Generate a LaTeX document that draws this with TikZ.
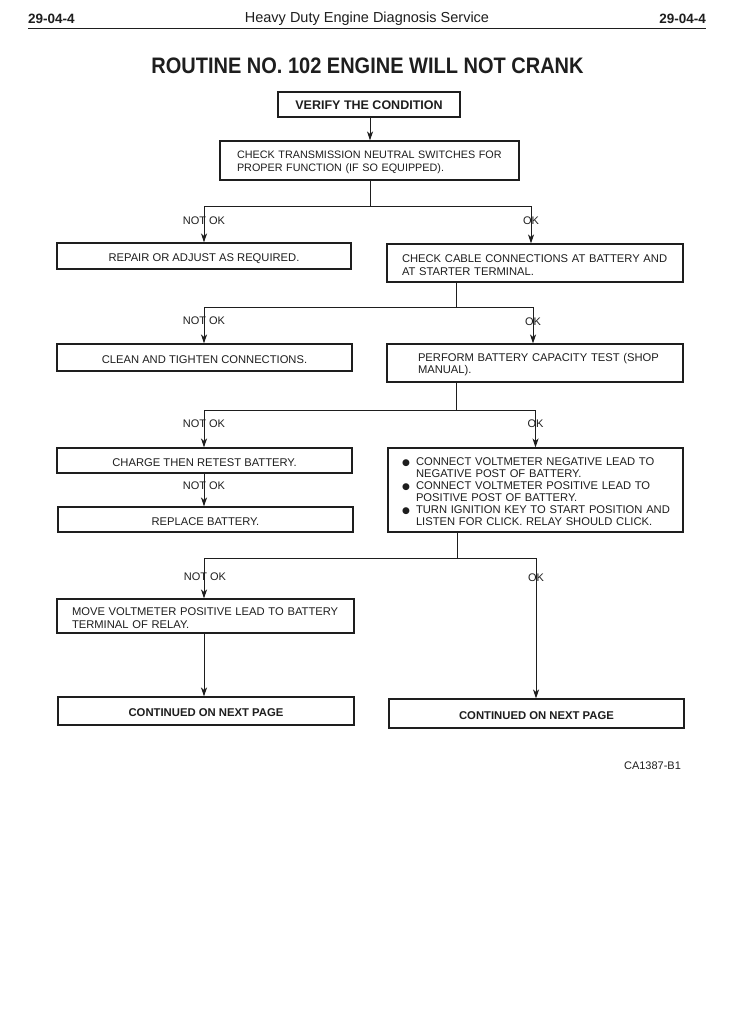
\documentclass[tikz,border=0pt]{standalone}
\usepackage{fontspec}
\setmainfont{Liberation Sans}
\newfontfamily\symfont{DejaVu Sans}
\usetikzlibrary{arrows.meta}
\definecolor{ink}{HTML}{1E1E1E}
\newcommand{\fs}[2]{\fontsize{#1}{#2}\selectfont}
\newcommand{\bul}{\makebox[14pt][l]{\raisebox{0.3pt}{\symfont\fs{9}{9}●}}}
\newcommand{\ind}{\hspace*{14pt}}
\newcommand{\tp}{\rule{0pt}{11.5pt}}
\begin{document}
\begin{tikzpicture}[x=1pt,y=-1pt,
  box/.style={draw=ink, line width=1.1pt, inner sep=0pt, text=ink, font=\fs{11.2}{12.8}},
  cbox/.style={box, text height=11pt, text depth=0pt},
  lbox/.style={box, align=left},
  arr/.style={draw=ink, line width=0.9pt, -{Stealth[length=9pt,width=6pt,inset=2.5pt]}},
  conn/.style={draw=ink, line width=0.9pt},
  lbl/.style={text=ink, font=\fs{11}{12}, inner sep=0pt},
  plain/.style={text=ink, inner sep=0pt}
]
\fill[white] (0,0) rectangle (751,1024);
\useasboundingbox (0,0) rectangle (751,1024);

% header
\node[plain, font=\bfseries\fs{13.5}{16}, anchor=west] (pgL) at (28,18.5) {29-04-4};
\node[plain, font=\bfseries\fs{13.5}{16}, anchor=east] (pgR) at (706,18.5) {29-04-4};
\node[plain, font=\fs{14.5}{17}] (hdr) at (367,18.5) {Heavy Duty Engine Diagnosis Service};
\draw[draw=ink, line width=1.5pt] (28,28.5) -- (706,28.5);

% title
\node[plain, font=\bfseries\fs{20}{24}] (title) at (367.5,66) {\scalebox{1}[1.12]{ROUTINE NO. 102 ENGINE WILL NOT CRANK}};

% boxes
\node[cbox, minimum width=182pt, minimum height=25pt, font=\bfseries\fs{12.5}{14}] (verify) at (369,104.5) {VERIFY THE CONDITION};

\node[lbox, text width=265pt, inner xsep=17pt, minimum height=39pt, font=\fs{10.8}{13}] (trans) at (369.5,160.5)
  {\mbox{\tp CHECK TRANSMISSION NEUTRAL SWITCHES FOR}\\\mbox{PROPER FUNCTION (IF SO EQUIPPED).}};

\node[cbox, minimum width=294pt, minimum height=26pt] (repair) at (204,256) {REPAIR OR ADJUST AS REQUIRED.};

\node[lbox, text width=266pt, inner xsep=15pt, minimum height=38pt] (cable) at (535,263)
  {\mbox{\tp CHECK CABLE CONNECTIONS AT BATTERY AND}\\\mbox{AT STARTER TERMINAL.}};

\node[cbox, minimum width=295pt, minimum height=27pt] (clean) at (204.5,357.5) {CLEAN AND TIGHTEN CONNECTIONS.};

\node[lbox, text width=234pt, inner xsep=31pt, minimum height=38pt] (perform) at (535,363)
  {\mbox{\tp PERFORM BATTERY CAPACITY TEST (SHOP}\\\mbox{MANUAL).}};

\node[cbox, minimum width=295pt, minimum height=25pt] (charge) at (204.5,460.5) {CHARGE THEN RETEST BATTERY.};

\node[cbox, minimum width=295pt, minimum height=25pt] (replace) at (205.5,519.5) {REPLACE BATTERY.};

\node[lbox, text width=267pt, inner xsep=14pt, minimum height=84pt, font=\fs{11.2}{12}] (connect) at (535.5,490)
  {\mbox{\tp\bul CONNECT VOLTMETER NEGATIVE LEAD TO}\\
   \mbox{\ind NEGATIVE POST OF BATTERY.}\\
   \mbox{\bul CONNECT VOLTMETER POSITIVE LEAD TO}\\
   \mbox{\ind POSITIVE POST OF BATTERY.}\\
   \mbox{\bul TURN IGNITION KEY TO START POSITION AND}\\
   \mbox{\ind LISTEN FOR CLICK. RELAY SHOULD CLICK.}};

\node[lbox, text width=267pt, inner xsep=15pt, minimum height=34pt] (move) at (205.5,616)
  {\mbox{\tp MOVE VOLTMETER POSITIVE LEAD TO BATTERY}\\\mbox{TERMINAL OF RELAY.}};

\node[cbox, minimum width=296pt, minimum height=28pt, font=\bfseries\fs{11.3}{13}] (contL) at (206,711) {CONTINUED ON NEXT PAGE};
\node[cbox, minimum width=295pt, minimum height=29pt, font=\bfseries\fs{11.3}{13}] (contR) at (536.5,713.5) {CONTINUED ON NEXT PAGE};

\node[plain, font=\fs{11}{12}] (code) at (652.5,766) {CA1387-B1};

% junction coordinates
\coordinate (j1) at (370,206);
\coordinate (j1R) at (531,206);
\coordinate (j2) at (456,307);
\coordinate (j2R) at (533,307);
\coordinate (j3) at (456,410);
\coordinate (j3R) at (535.5,410);
\coordinate (j4) at (457,558);
\coordinate (j4L) at (204,558);
\coordinate (j4R) at (536,558);

% connectors
\draw[arr] (verify.south -| j1) -- (trans.north -| j1);

\draw[conn] (trans.south -| j1) -- (j1);
\draw[arr] (j1) -| (repair.north);
\draw[arr] (j1) -| (j1R |- cable.north);

\draw[conn] (cable.south -| j2) -- (j2);
\draw[arr] (j2) -| (clean.north -| repair.north);
\draw[arr] (j2) -| (j2R |- perform.north);

\draw[conn] (perform.south -| j3) -- (j3);
\draw[arr] (j3) -| (charge.north -| repair.north);
\draw[arr] (j3) -| (j3R |- connect.north);

\draw[arr] (charge.south -| repair.north) -- (replace.north -| repair.north);

\draw[conn] (connect.south -| j4) -- (j4);
\draw[arr] (j4) -| (j4L |- move.north);
\draw[arr] (j4) -| (j4R |- contR.north);

\draw[arr] (move.south -| j4L) -- (contL.north -| j4L);

% labels
\node[lbl] (l1a) at (204,220.5) {NOT OK};
\node[lbl] (l1b) at (531,221) {OK};
\node[lbl] (l2a) at (204,321) {NOT OK};
\node[lbl] (l2b) at (533,322) {OK};
\node[lbl] (l3a) at (204,424) {NOT OK};
\node[lbl] (l3b) at (535.5,424) {OK};
\node[lbl] (l3c) at (204,486) {NOT OK};
\node[lbl] (l4a) at (205,577) {NOT OK};
\node[lbl] (l4b) at (536,578) {OK};
\end{tikzpicture}
\end{document}
